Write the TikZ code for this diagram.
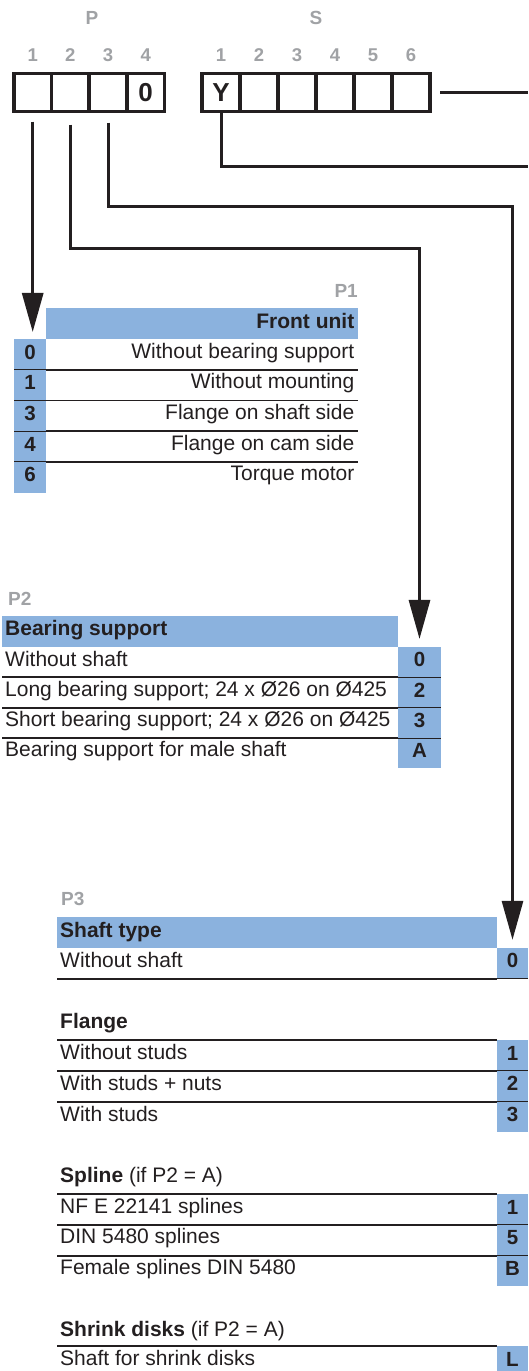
\documentclass[tikz,border=0pt]{standalone}
\usepackage{fontspec}
\setmainfont{Liberation Sans}
\usetikzlibrary{arrows.meta}
\definecolor{ink}{RGB}{35,31,32}
\definecolor{cellblue}{RGB}{139,178,222}
\definecolor{labgray}{RGB}{160,162,165}
\tikzset{
  cell/.style={draw=ink, line width=3.6pt, minimum width=37.8pt, minimum height=38pt, inner sep=0pt, outer sep=0pt, font=\fontsize{26}{28}\selectfont\bfseries, text=ink},
  toplab/.style={font=\fontsize{19}{21}\selectfont\bfseries, text=labgray, inner sep=0pt},
  digitlab/.style={font=\fontsize{18.5}{20}\selectfont\bfseries, text=labgray, inner sep=0pt},
  conn/.style={draw=ink, line width=3pt},
  arr/.style={conn, -{Triangle[length=39pt,width=21pt]}},
  num/.style={fill=cellblue, inner sep=0pt, outer sep=0pt, font=\fontsize{20.5}{22}\selectfont\bfseries, text=ink, text height=14.7pt, text depth=5.4pt},
  rowtxt/.style={font=\fontsize{21}{24}\selectfont, text=ink, inner sep=0pt},
  headtxt/.style={font=\fontsize{21}{24}\selectfont\bfseries, text=ink, inner sep=0pt},
  septhick/.style={draw=ink, line width=1.8pt},
  septhin/.style={draw=ink, line width=0.8pt},
}
\begin{document}
\begin{tikzpicture}[x=1pt,y=-1pt]
\useasboundingbox (0,0) rectangle (528,1371);
\clip (0,0) rectangle (528,1371);

% ---------- top code boxes ----------
\node[toplab] (lP) at (92,18) {P};
\node[toplab] (lS) at (316,18) {S};
\node[digitlab] (dp1) at (32.7,55) {1};
\node[digitlab] (dp2) at (70.3,55) {2};
\node[digitlab] (dp3) at (108,55) {3};
\node[digitlab] (dp4) at (145.7,55) {4};
\node[digitlab] (ds1) at (221,55) {1};
\node[digitlab] (ds2) at (259,55) {2};
\node[digitlab] (ds3) at (297,55) {3};
\node[digitlab] (ds4) at (335,55) {4};
\node[digitlab] (ds5) at (373,55) {5};
\node[digitlab] (ds6) at (411,55) {6};

\node[cell] (p1) at (32.7,92.5) {};
\node[cell] (p2) at (70.3,92.5) {};
\node[cell] (p3) at (108,92.5) {};
\node[cell] (p4) at (145.7,92.5) {0};
\node[cell, minimum width=38pt] (s1) at (221,92.5) {Y};
\node[cell, minimum width=38pt] (s2) at (259,92.5) {};
\node[cell, minimum width=38pt] (s3) at (297,92.5) {};
\node[cell, minimum width=38pt] (s4) at (335,92.5) {};
\node[cell, minimum width=38pt] (s5) at (373,92.5) {};
\node[cell, minimum width=38pt] (s6) at (411,92.5) {};

% ---------- P1 table ----------
\fill[cellblue] (46,308) rectangle (358,339);
\node[toplab, anchor=east] (lp1) at (358,291) {P1};
\node[headtxt, anchor=base east] (h1) at (354.5,328) {Front unit};
\begin{scope}[every node/.append style={num, minimum width=32pt, minimum height=30.8pt}]
\node (n10) at (30,354.35) {0};
\node (n11) at (30,385.05) {1};
\node (n13) at (30,415.75) {3};
\node (n14) at (30,446.45) {4};
\node (n16) at (30,477.15) {6};
\end{scope}
\foreach \yy in {369.7,400.4,431.1,461.8}{
  \draw[septhick] (46,\yy) -- (358,\yy);
  \draw[septhin] (14,\yy) -- (46,\yy);
}
\node[rowtxt, anchor=base east] (t10) at (354.5,358) {Without bearing support};
\node[rowtxt, anchor=base east] (t11) at (354.5,388.7) {Without mounting};
\node[rowtxt, anchor=base east] (t13) at (354.5,419.4) {Flange on shaft side};
\node[rowtxt, anchor=base east] (t14) at (354.5,450.1) {Flange on cam side};
\node[rowtxt, anchor=base east] (t16) at (354.5,480.8) {Torque motor};

% ---------- P2 table ----------
\fill[cellblue] (2,616) rectangle (398,647);
\node[toplab, anchor=west] (lp2) at (8,598.5) {P2};
\node[headtxt, anchor=base west] (h2) at (5,635) {Bearing support};
\begin{scope}[every node/.append style={num, minimum width=43pt, minimum height=30.4pt}]
\node (n20) at (419.5,662.15) {0};
\node (n22) at (419.5,692.45) {2};
\node (n23) at (419.5,722.75) {3};
\node (n2A) at (419.5,753.05) {A};
\end{scope}
\foreach \yy in {677.3,707.6,737.9}{
  \draw[septhick] (2,\yy) -- (398,\yy);
  \draw[septhin] (398,\yy) -- (441,\yy);
}
\node[rowtxt, anchor=base west] (t20) at (5,666) {Without shaft};
\node[rowtxt, anchor=base west] (t22) at (5,696.3) {Long bearing support; 24 x Ø26 on Ø425};
\node[rowtxt, anchor=base west] (t23) at (5,726.6) {Short bearing support; 24 x Ø26 on Ø425};
\node[rowtxt, anchor=base west] (t2A) at (5,756.9) {Bearing support for male shaft};

% ---------- P3 table ----------
\fill[cellblue] (57,917) rectangle (497,948);
\node[toplab, anchor=west] (lp3) at (61,899) {P3};
\node[headtxt, anchor=base west] (h3) at (60,937) {Shaft type};
\begin{scope}[every node/.append style={num, minimum width=31pt, minimum height=30.8pt}]
\node (n30) at (512.5,963.2) {0};
\node (n31) at (512.5,1055.4) {1};
\node (n32) at (512.5,1086.2) {2};
\node (n33) at (512.5,1117) {3};
\node (n34) at (512.5,1209.4) {1};
\node (n35) at (512.5,1240.2) {5};
\node (n36) at (512.5,1271) {B};
\node (n37) at (512.5,1361.4) {L};
\end{scope}
\draw[septhick] (57,978.6) -- (497,978.6);
\draw[septhin] (497,978.6) -- (528,978.6);
\node[rowtxt, anchor=base west] (t30) at (60,967) {Without shaft};

\node[headtxt, anchor=base west] (hf) at (60,1028) {Flange};
\draw[septhick] (57,1040) -- (497,1040);
\foreach \yy in {1070.8,1101.6}{
  \draw[septhick] (57,\yy) -- (497,\yy);
  \draw[septhin] (497,\yy) -- (528,\yy);
}
\node[rowtxt, anchor=base west] (t31) at (60,1059.5) {Without studs};
\node[rowtxt, anchor=base west] (t32) at (60,1090.3) {With studs + nuts};
\node[rowtxt, anchor=base west] (t33) at (60,1121.1) {With studs};

\node[rowtxt, anchor=base west] (hs) at (60,1182) {\textbf{Spline} (if P2 = A)};
\draw[septhick] (57,1194) -- (497,1194);
\foreach \yy in {1224.8,1255.6}{
  \draw[septhick] (57,\yy) -- (497,\yy);
  \draw[septhin] (497,\yy) -- (528,\yy);
}
\node[rowtxt, anchor=base west] (t34) at (60,1213) {NF E 22141 splines};
\node[rowtxt, anchor=base west] (t35) at (60,1243.8) {DIN 5480 splines};
\node[rowtxt, anchor=base west] (t36) at (60,1274.6) {Female splines DIN 5480};

\node[rowtxt, anchor=base west] (hk) at (60,1336) {\textbf{Shrink disks} (if P2 = A)};
\draw[septhick, line width=1.3pt] (57,1346) -- (497,1346);
\node[rowtxt, anchor=base west] (t37) at (60,1365) {Shaft for shrink disks};

% ---------- connectors ----------
\coordinate (y2) at (0,248);
\coordinate (y3) at (0,206);
\coordinate (eY) at (528,166);
\coordinate (eS) at (528,92.5);

\draw[arr, shorten <=10pt, shorten >=7pt] (p1.south) -- (p1.south |- n10.north);
\draw[arr, shorten <=13pt, shorten >=8pt] (p2.south) -- (p2.south |- y2) -- (n20.north |- y2) -- (n20.north);
\draw[arr, shorten <=11pt, shorten >=8pt] (p3.south) -- (p3.south |- y3) -- (n30.north |- y3) -- (n30.north);
\draw[conn] (s1.south) |- (eY);
\draw[conn, shorten <=10pt] (s6.east) -- (eS);
\end{tikzpicture}
\end{document}
